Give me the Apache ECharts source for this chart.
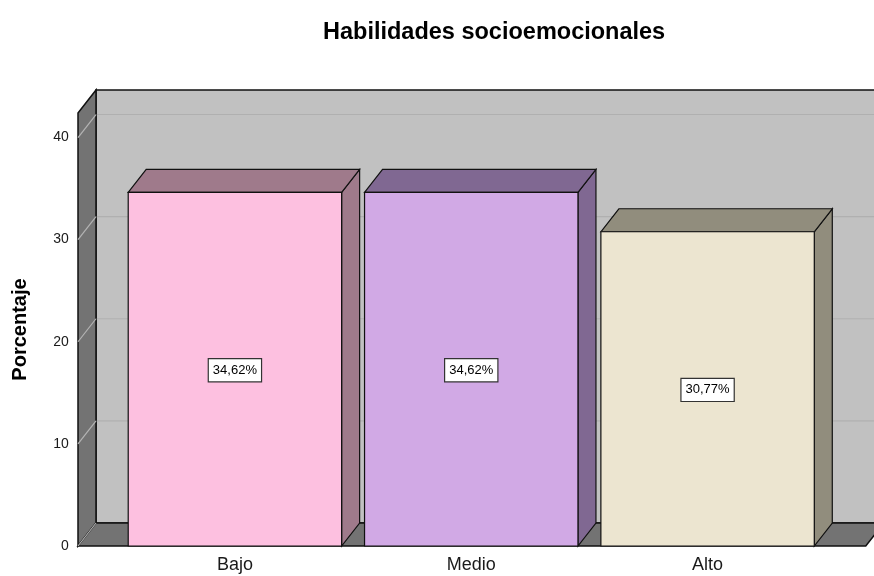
<!DOCTYPE html>
<html>
<head>
<meta charset="utf-8">
<script src="https://cdn.jsdelivr.net/npm/echarts@6/dist/echarts.min.js"></script>
<style>html,body{margin:0;padding:0;background:#fff}#c{width:874px;height:576px}</style>
</head>
<body>
<div id="c"></div>
<script>
const categories = ['Bajo', 'Medio', 'Alto'];
const percentages = [34.62, 34.62, 30.77];
const gridTicks = [0, 10, 20, 30, 40];

const frontColors = ['#fdc0e0', '#d1a9e5', '#ece5d0'];
const topColors = ['#9f7a8b', '#806892', '#918d7d'];
const DX = 18, DY = -23;
const FONT = 'Liberation Sans, Arial, sans-serif';

function fmt(v) { return v.toFixed(2).replace('.', ',') + '%'; }

const chart = echarts.init(document.getElementById('c'));
chart.setOption({
  animation: false,
  title: {
    text: 'Habilidades socioemocionales',
    left: 318, top: 16,
    textStyle: { fontFamily: FONT, fontSize: 23.5, fontWeight: 'bold', color: '#000' }
  },
  grid: { left: 116.75, right: 48.25, top: 113, bottom: 30 },
  xAxis: {
    type: 'category', data: categories,
    axisLine: { show: false }, axisTick: { show: false },
    axisLabel: { margin: 10, fontFamily: FONT, fontSize: 18, color: '#1a1a1a' }
  },
  yAxis: {
    type: 'value', min: 0, max: 42.4, interval: 10,
    name: 'Porcentaje', nameLocation: 'middle', nameGap: 86,
    nameTextStyle: { fontFamily: FONT, fontSize: 20, fontWeight: 'bold', color: '#000' },
    axisLine: { show: false }, axisTick: { show: false }, splitLine: { show: false },
    axisLabel: { margin: 48, fontFamily: FONT, fontSize: 14, color: '#1a1a1a', showMaxLabel: false }
  },
  series: [
    {
      type: 'custom', z: 1, silent: true,
      data: [[0, 0]],
      renderItem: function (params, api) {
        const cs = params.coordSys;
        const fx0 = cs.x - 38.75, fx1 = cs.x + cs.width + 40;
        const fb = api.coord([0, 0])[1];
        const ft = cs.y;
        const children = [];
        children.push({ type: 'rect', shape: { x: fx0 + DX, y: ft + DY, width: fx1 - fx0, height: fb - ft },
          style: { fill: '#c1c1c1', stroke: '#111', lineWidth: 1.5 } });
        gridTicks.forEach(function (v) {
          const y = api.coord([0, v])[1];
          if (v > 0) children.push({ type: 'line', shape: { x1: fx0 + DX, y1: y + DY, x2: fx1 + DX, y2: y + DY },
            style: { stroke: '#b0b0b0', lineWidth: 1.2 } });
        });
        children.push({ type: 'polygon', shape: { points: [[fx0, ft], [fx0 + DX, ft + DY], [fx0 + DX, fb + DY], [fx0, fb]] },
          style: { fill: '#737373', stroke: '#111', lineWidth: 1.5 } });
        children.push({ type: 'polygon', shape: { points: [[fx0, fb], [fx1, fb], [fx1 + DX, fb + DY], [fx0 + DX, fb + DY]] },
          style: { fill: '#737373', stroke: '#111', lineWidth: 1.5 } });
        gridTicks.forEach(function (v) {
          const y = api.coord([0, v])[1];
          children.push({ type: 'line', shape: { x1: fx0, y1: y, x2: fx0 + DX, y2: y + DY },
            style: { stroke: '#b4b4b4', lineWidth: 1.2 } });
        });
        return { type: 'group', children: children };
      }
    },
    {
      type: 'custom', z: 2, silent: true,
      data: percentages.map(function (v, i) { return [i, v]; }),
      encode: { x: 0, y: 1 },
      renderItem: function (params, api) {
        const i = api.value(0), v = api.value(1);
        const top = api.coord([i, v]);
        const base = api.coord([i, 0]);
        const bw = api.size([1, 0])[0] * 0.903;
        const x0 = top[0] - bw / 2, x1 = top[0] + bw / 2;
        const yt = top[1], yb = base[1];
        const stroke = { stroke: '#111', lineWidth: 1.2 };
        return {
          type: 'group',
          children: [
            { type: 'polygon', shape: { points: [[x1, yt], [x1 + DX, yt + DY], [x1 + DX, yb + DY], [x1, yb]] },
              style: Object.assign({ fill: topColors[i] }, stroke) },
            { type: 'polygon', shape: { points: [[x0, yt], [x0 + DX, yt + DY], [x1 + DX, yt + DY], [x1, yt]] },
              style: Object.assign({ fill: topColors[i] }, stroke) },
            { type: 'rect', shape: { x: x0, y: yt, width: bw, height: yb - yt },
              style: Object.assign({ fill: frontColors[i] }, stroke) },
            { type: 'text', z2: 10, style: {
                text: fmt(v), x: top[0], y: (yt + yb) / 2 + 1, align: 'center', verticalAlign: 'middle',
                font: '13px ' + FONT, fill: '#000',
                backgroundColor: '#fff', borderColor: '#333', borderWidth: 1.2, padding: [5, 4, 4, 4]
            } }
          ]
        };
      }
    }
  ]
});
</script>
</body>
</html>
